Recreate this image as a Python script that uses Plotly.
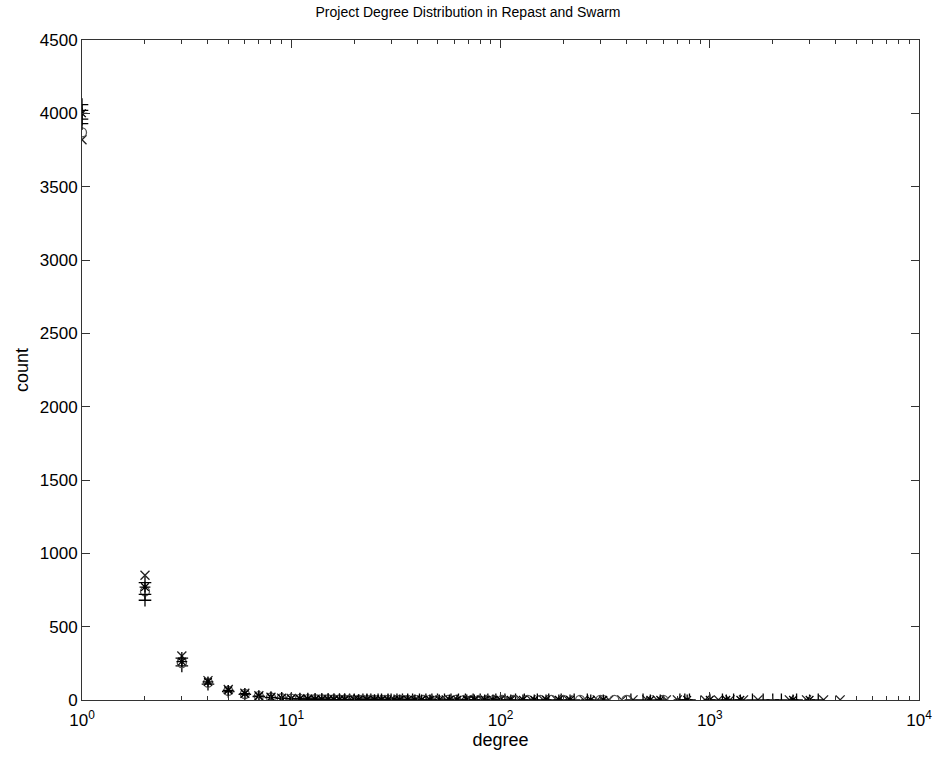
import plotly.graph_objects as go

# Repast run (x markers)
rx_deg = [1, 2, 3, 4, 5, 6, 7, 8, 9, 10, 11, 12, 13, 14, 15, 16, 17, 18, 19, 20, 21, 22, 23, 24, 25,
          26, 27, 28, 30, 31, 33, 35, 37, 40, 42, 45, 48, 52, 55, 60, 65, 70, 76, 82, 90, 98, 110,
          125, 140, 160, 185, 210, 250, 290, 330, 380, 430, 500, 560, 620, 700, 950, 1100, 1250,
          1450, 1700, 2400, 2900, 3500, 4200]
rx_cnt = [3820, 850, 300, 132, 72, 46, 29, 19, 13, 10, 8, 7, 6, 5, 5, 4, 4, 3, 3, 3, 2, 2, 2, 2, 2,
          2, 2, 1, 1, 2, 1, 1, 1, 1, 1, 1, 1, 1, 1, 1, 1, 1, 1, 1, 1, 1, 1,
          1, 1, 1, 1, 1, 1, 1, 1, 1, 1, 1, 1, 1, 1, 1, 1, 1,
          1, 1, 1, 1, 1, 1]

# Swarm run (+ markers)
sp_deg = [1, 2, 3, 4, 5, 6, 7, 8, 9, 10, 11, 12, 13, 14, 15, 16, 17, 18, 19, 20, 22, 23, 24, 26,
          27, 29, 30, 32, 34, 36, 38, 41, 44, 47, 50, 54, 58, 63, 68, 74, 80, 87, 95, 105, 118,
          130, 150, 170, 195, 225, 260, 420, 480, 720, 760, 800, 1000, 1150, 1300, 1600, 1800,
          2000, 2200, 2600, 3300]
sp_cnt = [4060, 680, 232, 108, 58, 38, 24, 16, 11, 8, 7, 6, 5, 4, 4, 3, 3, 3, 2, 2, 2, 2, 2, 1,
          1, 1, 1, 1, 1, 1, 1, 1, 1, 1, 1, 1, 1, 1, 1, 1, 1, 1, 1, 1, 1,
          1, 1, 1, 1, 1, 1, 1, 1, 1, 1, 1, 1, 1, 1, 1, 1,
          1, 1, 1, 1]

# Repast run (o markers)
ro_deg = [1, 2, 3, 4, 5, 6, 7, 8, 9, 10, 11, 12, 13, 14, 15, 16, 17, 18, 19, 21, 22, 24, 25, 28,
          29, 32, 34, 36, 39, 43, 46, 50, 56, 61, 67, 73, 79, 86, 93, 102, 115, 135, 155, 175,
          200, 240, 300, 350, 400, 600]
ro_cnt = [3870, 740, 252, 118, 62, 41, 26, 17, 12, 9, 7, 6, 5, 4, 4, 3, 3, 2, 2, 2, 2, 2, 1, 1,
          1, 1, 1, 1, 1, 1, 1, 1, 1, 1, 1, 1, 1, 1, 1, 1, 1, 1, 1, 1,
          1, 1, 1, 1, 1, 1]

# Swarm run (* markers)
ss_deg = [1, 2, 3, 4, 5, 6, 7, 8, 9, 10, 11, 12, 13, 14, 15, 16, 17, 18, 20, 21, 23, 25, 27,
          29, 31, 33, 36, 39, 42, 46, 51, 57, 62, 69, 75, 84, 92, 100, 112, 128, 145, 165, 190,
          215, 270, 310, 520, 580, 780, 1000, 1200, 1400, 2500, 3000]
ss_cnt = [4000, 770, 262, 124, 66, 43, 27, 18, 12, 9, 7, 6, 5, 4, 4, 3, 3, 3, 2, 2, 2, 2, 1,
          1, 1, 1, 1, 1, 1, 1, 1, 1, 1, 1, 1, 1, 1, 1, 1, 1, 1, 1, 1,
          1, 1, 1, 1, 1, 1, 1, 1, 1, 1, 1]

# extra runs near degree 1
ex_deg = [1, 1, 1, 2, 2, 3]
ex_cnt = [3930, 4020, 3960, 720, 800, 285]

x_ticks = [1, 10, 100, 1000, 10000]
x_text = ["10<sup>0</sup>", "10<sup>1</sup>", "10<sup>2</sup>", "10<sup>3</sup>", "10<sup>4</sup>"]
y_ticks = [0, 500, 1000, 1500, 2000, 2500, 3000, 3500, 4000, 4500]

fig = go.Figure()
series = [
    (rx_deg, rx_cnt, "x-thin-open", "#222222", "Repast x"),
    (sp_deg, sp_cnt, "cross-thin-open", "#000000", "Swarm +"),
    (ro_deg, ro_cnt, "circle-open", "#555555", "Repast o"),
    (ss_deg, ss_cnt, "asterisk-open", "#000000", "Swarm *"),
    (ex_deg, ex_cnt, "cross-thin-open", "#000000", "extra"),
]
for d, c, sym, col, name in series:
    fig.add_trace(go.Scatter(
        x=d, y=c, mode="markers", name=name,
        marker=dict(symbol=sym, size=9, color=col, line=dict(width=1.3, color=col)),
        showlegend=False,
    ))

font = "Liberation Sans, Arial, sans-serif"
axcol = "#333333"
fig.update_layout(
    width=936, height=761,
    margin=dict(l=82, r=17, t=40, b=61, autoexpand=False),
    paper_bgcolor="white", plot_bgcolor="white",
    font=dict(family=font, color="black", size=17),
    title=dict(text="Project Degree Distribution in Repast and Swarm",
               x=0.5, xanchor="center", y=0.984, yanchor="middle",
               xref="container", font=dict(size=14, family=font)),
    xaxis=dict(
        type="log", range=[0, 4], tickvals=x_ticks, ticktext=x_text,
        ticks="inside", ticklen=8, tickcolor=axcol, showgrid=False, zeroline=False,
        showline=True, linecolor=axcol, linewidth=1, mirror="allticks",
        minor=dict(ticks="inside", ticklen=4, tickcolor=axcol, showgrid=False, dtick="D1"),
        title=dict(text="degree", font=dict(size=18), standoff=2),
        tickfont=dict(size=17), automargin=False, ticklabelstandoff=5,
        ticklabeloverflow="allow",
    ),
    yaxis=dict(
        range=[0, 4500], tickvals=y_ticks,
        ticks="inside", ticklen=8, tickcolor=axcol, showgrid=False, zeroline=False,
        showline=True, linecolor=axcol, linewidth=1, mirror="allticks",
        title=dict(text="count", font=dict(size=18), standoff=6),
        tickfont=dict(size=17), automargin=False,
    ),
)

fig.write_html("out.html")
